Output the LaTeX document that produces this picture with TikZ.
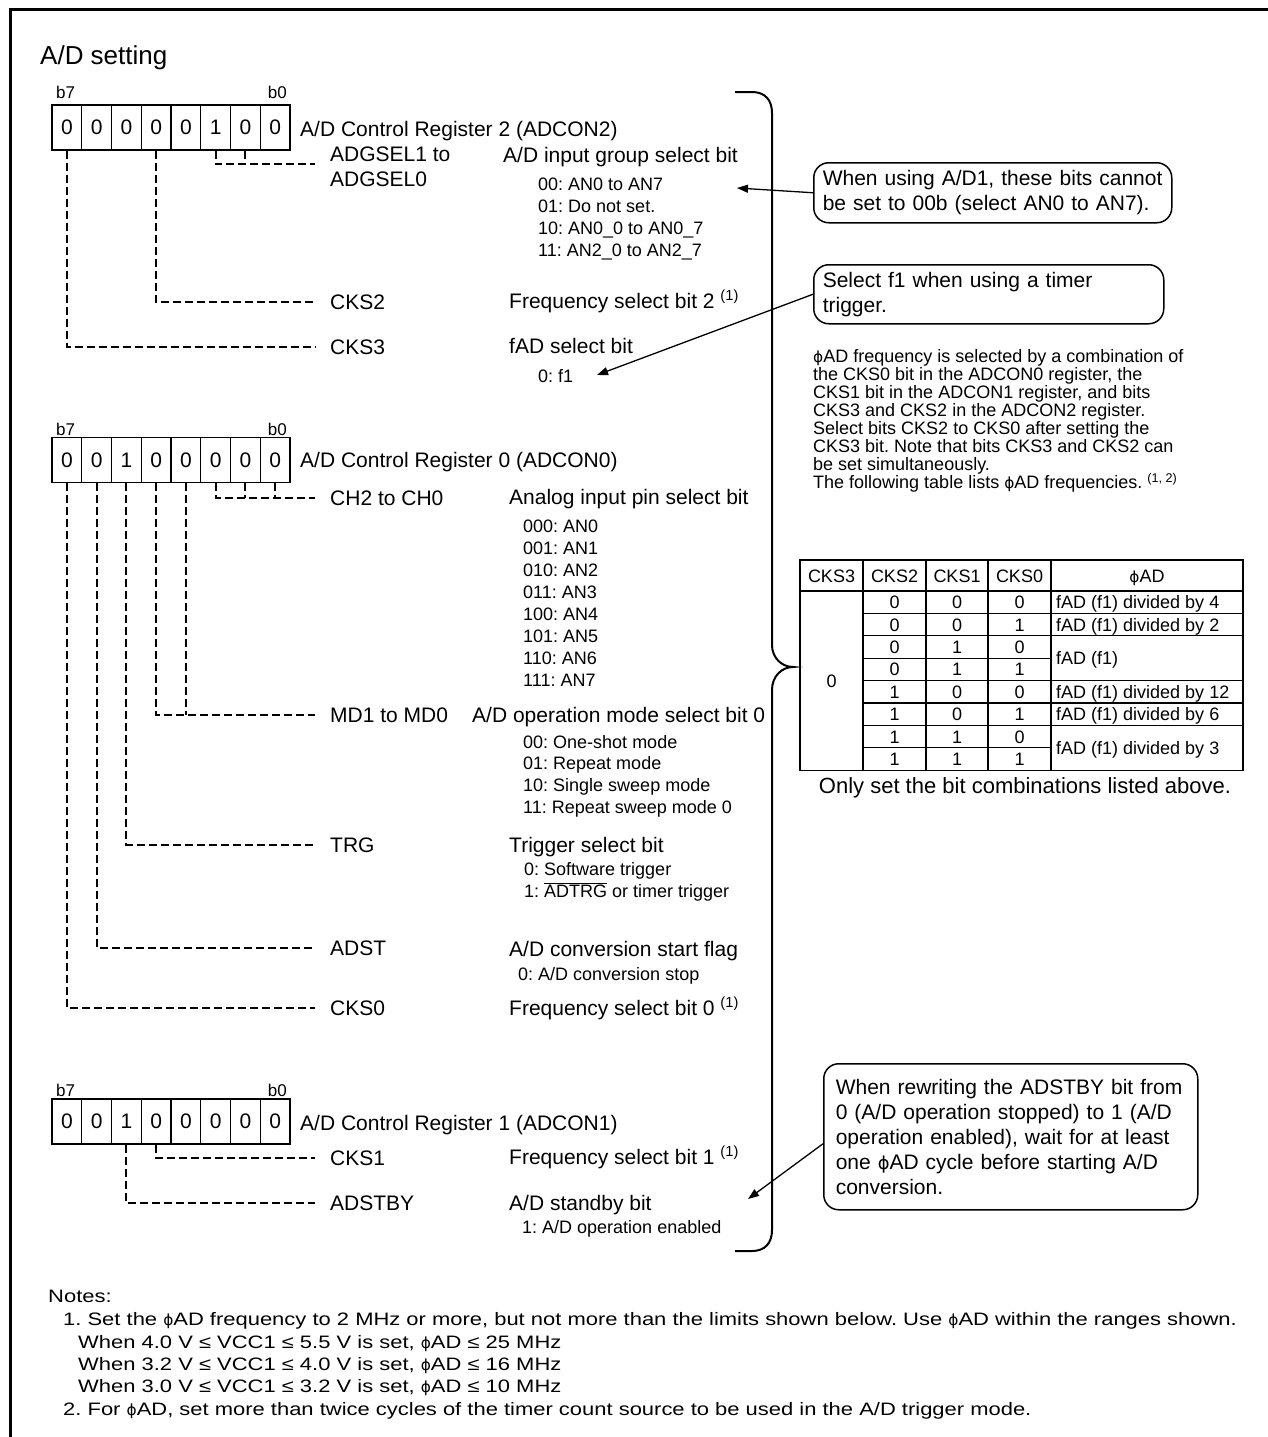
\documentclass[tikz,border=0pt]{standalone}
\usepackage{fontspec}
\setmainfont{Liberation Sans}
\newfontfamily\phifont{DejaVu Sans}[Scale=0.85]
\newfontfamily\notesfont{Liberation Sans}[FakeStretch=1.22]
\usetikzlibrary{arrows.meta,calc}
\frenchspacing
\newcommand\phiAD{{\phifont ϕ}AD}
\newcommand\fsT{\fontsize{26}{30}\selectfont}
\newcommand\fsA{\fontsize{21}{25}\selectfont}
\newcommand\fsO{\fontsize{22}{26}\selectfont}
\newcommand\fsB{\fontsize{18}{22}\selectfont}
\newcommand\fsC{\fontsize{17}{20}\selectfont}
\newcommand\fsN{\notesfont\fontsize{18}{22}\selectfont}
\newcommand\sups[1]{\textsuperscript{(#1)}}
\newcommand\ovl[1]{$\overline{\hbox{#1}}$}
\begin{document}
\begin{tikzpicture}[x=1pt,y=-1pt,
  cell/.style={draw, line width=1.3pt, minimum width=29.75pt, minimum height=45pt, inner sep=0pt, font=\fsA},
  txt/.style={inner sep=0pt, anchor=base west},
  blbl/.style={inner sep=0pt, font=\fsC},
  lbl/.style={font=\fsA, inner xsep=15pt, inner ysep=0pt, text height=15pt, text depth=0pt, anchor=west},
  lbl2/.style={font=\fsA, align=left, inner xsep=15pt, inner ysep=0pt, anchor=west},
  dl/.style={line width=2pt, dash pattern=on 8pt off 4pt},
  callout/.style={draw, rounded corners=15pt, line width=1.5pt, font=\fsA, align=left, inner ysep=0pt, anchor=north west},
  arr/.style={line width=1.3pt, -{Triangle[length=11pt,width=8pt]}},
  tbl/.style={line width=1.3pt},
  tc/.style={font=\fsB, inner sep=0pt, text height=13pt, text depth=0pt, anchor=center},
  brace/.style={line width=2pt}
]
\useasboundingbox (0,0) rectangle (1267,1437);
\draw[line width=3pt] (1300,10) -- (10,10) -- (10,1500);

\node[txt, font=\fsT] (title) at (40,65) {A/D setting};

% ---------------- ADCON2 ----------------
\foreach \i/\v in {7/0,6/0,5/0,4/0,3/0,2/1,1/0,0/0}
  \node[cell] (ra\i) at ({66.875+29.75*(7-\i)},127.5) {\v};
\node[blbl, anchor=base west] (ra-b7) at (56,98) {b7};
\node[blbl, anchor=base east] (ra-b0) at (287,98) {b0};
\node[txt, font=\fsA] (ra-name) at (300,136) {A/D Control Register 2 (ADCON2)};

\node[lbl2] (adgsel) at (315,167) {ADGSEL1 to\\ADGSEL0};
\coordinate (adgselL) at ($(adgsel.west)+(0,-3)$);
\draw[dl] (ra2.south) |- (adgselL);
\draw[dl] (ra1.south) -- (ra1.south |- adgselL);
\node[txt, font=\fsA] (adgsel-d) at (503,162) {A/D input group select bit};
\foreach \t [count=\k from 0] in {{00: AN0 to AN7},{01: Do not set.},{10: AN0\_0 to AN0\_7},{11: AN2\_0 to AN2\_7}}
  \node[txt, font=\fsB] (adgsel-s\k) at (538,{190+22.3*\k}) {\t};

\node[lbl] (cks2) at (315,302) {CKS2};
\draw[dl] (ra4.south) |- (cks2.west);
\node[txt, font=\fsA] (cks2-d) at (509,308) {Frequency select bit 2 \sups{1}};

\node[lbl] (cks3) at (315,347) {CKS3};
\draw[dl] (ra7.south) |- (cks3.west);
\node[txt, font=\fsA] (cks3-d) at (509,353) {fAD select bit};
\node[txt, font=\fsB] (cks3-s) at (538,382) {0: f1};
\coordinate (f1tip) at (597,375);

% ---------------- callouts top ----------------
\node[callout, text width=340pt, inner xsep=9pt, minimum height=60pt] (c1) at (813,162)
  {When using A/D1, these bits cannot\\be set to 00b (select AN0 to AN7).};
\coordinate (t1) at (737,188);
\draw[arr] (c1.west) -- (t1);

\node[callout, text width=332pt, inner xsep=9pt, minimum height=59pt] (c2) at (813,264)
  {Select f1 when using a timer\\trigger.};
\draw[arr] (c2.west) -- (f1tip);

% ---------------- paragraph ----------------
\foreach \t [count=\k from 0] in {
  {\phiAD\ frequency is selected by a combination of},
  {the CKS0 bit in the ADCON0 register, the},
  {CKS1 bit in the ADCON1 register, and bits},
  {CKS3 and CKS2 in the ADCON2 register.},
  {Select bits CKS2 to CKS0 after setting the},
  {CKS3 bit. Note that bits CKS3 and CKS2 can},
  {be set simultaneously.},
  {The following table lists \phiAD\ frequencies. \sups{1, 2}}}
  \node[txt, font=\fsB] (p\k) at (813,{362+18.1*\k}) {\t};

% ---------------- table ----------------
\draw[tbl] (800,560) rectangle (1243,770.2);
\draw[tbl] (800,591) -- (1243,591);
\foreach \x in {863,926,988,1051} \draw[tbl] (\x,560) -- (\x,770.2);
\foreach \k in {1,...,7} \draw[tbl] (863,{591+22.4*\k}) -- (1051,{591+22.4*\k});
\foreach \k in {1,2,4,5,6} \draw[tbl] (1051,{591+22.4*\k}) -- (1243,{591+22.4*\k});
\node[tc] (h1) at (831.5,575.5) {CKS3};
\node[tc] (h2) at (894.5,575.5) {CKS2};
\node[tc] (h3) at (957,575.5) {CKS1};
\node[tc] (h4) at (1019.5,575.5) {CKS0};
\node[tc] (h5) at (1147,575.5) {\phiAD};
\node[tc] (v1) at (831.5,680.6) {0};
\foreach \a/\b/\c [count=\k from 0] in {0/0/0,0/0/1,0/1/0,0/1/1,1/0/0,1/0/1,1/1/0,1/1/1} {
  \node[tc] (v2-\k) at (894.5,{602.2+22.4*\k}) {\a};
  \node[tc] (v3-\k) at (957,{602.2+22.4*\k}) {\b};
  \node[tc] (v4-\k) at (1019.5,{602.2+22.4*\k}) {\c};
}
\node[tc, anchor=west] (f0) at (1056,602.2) {fAD (f1) divided by 4};
\node[tc, anchor=west] (f1) at (1056,624.6) {fAD (f1) divided by 2};
\node[tc, anchor=west] (f2) at (1056,658.2) {fAD (f1)};
\node[tc, anchor=west] (f4) at (1056,691.8) {fAD (f1) divided by 12};
\node[tc, anchor=west] (f5) at (1056,714.2) {fAD (f1) divided by 6};
\node[tc, anchor=west] (f6) at (1056,747.8) {fAD (f1) divided by 3};
\node[inner sep=0pt, anchor=base, font=\fsO] (only) at (1025,793) {Only set the bit combinations listed above.};

% ---------------- ADCON0 ----------------
\foreach \i/\v in {7/0,6/0,5/1,4/0,3/0,2/0,1/0,0/0}
  \node[cell] (rb\i) at ({66.875+29.75*(7-\i)},460) {\v};
\node[blbl, anchor=base west] (rb-b7) at (56,435) {b7};
\node[blbl, anchor=base east] (rb-b0) at (287,435) {b0};
\node[txt, font=\fsA] (rb-name) at (300,467) {A/D Control Register 0 (ADCON0)};

\node[lbl] (ch) at (315,498) {CH2 to CH0};
\draw[dl] (rb2.south) |- (ch.west);
\draw[dl] (rb1.south) -- (rb1.south |- ch.west);
\draw[dl] (rb0.south) -- (rb0.south |- ch.west);
\node[txt, font=\fsA] (ch-d) at (509,504) {Analog input pin select bit};
\foreach \t [count=\k from 0] in {{000: AN0},{001: AN1},{010: AN2},{011: AN3},{100: AN4},{101: AN5},{110: AN6},{111: AN7}}
  \node[txt, font=\fsB] (ch-s\k) at (523,{532+22.1*\k}) {\t};

\node[lbl] (md) at (315,715) {MD1 to MD0};
\draw[dl] (rb4.south) |- (md.west);
\draw[dl] (rb3.south) -- (rb3.south |- md.west);
\node[txt, font=\fsA] (md-d) at (472,722) {A/D operation mode select bit 0};
\foreach \t [count=\k from 0] in {{00: One-shot mode},{01: Repeat mode},{10: Single sweep mode},{11: Repeat sweep mode 0}}
  \node[txt, font=\fsB] (md-s\k) at (523,{748+21.8*\k}) {\t};

\node[lbl] (trg) at (315,845) {TRG};
\draw[dl] (rb5.south) |- (trg.west);
\node[txt, font=\fsA] (trg-d) at (509,852) {Trigger select bit};
\node[txt, font=\fsB] (trg-s0) at (524,875) {0: Software trigger};
\node[txt, font=\fsB] (trg-s1) at (524,897) {1: \ovl{ADTRG} or timer trigger};

\node[lbl] (adst) at (315,948) {ADST};
\draw[dl] (rb6.south) |- (adst.west);
\node[txt, font=\fsA] (adst-d) at (509,956) {A/D conversion start flag};
\node[txt, font=\fsB] (adst-s) at (518,980) {0: A/D conversion stop};

\node[lbl] (cks0) at (315,1008) {CKS0};
\draw[dl] (rb7.south) |- (cks0.west);
\node[txt, font=\fsA] (cks0-d) at (509,1015) {Frequency select bit 0 \sups{1}};

% ---------------- ADCON1 ----------------
\foreach \i/\v in {7/0,6/0,5/1,4/0,3/0,2/0,1/0,0/0}
  \node[cell] (rc\i) at ({66.875+29.75*(7-\i)},1121.5) {\v};
\node[blbl, anchor=base west] (rc-b7) at (56,1096) {b7};
\node[blbl, anchor=base east] (rc-b0) at (287,1096) {b0};
\node[txt, font=\fsA] (rc-name) at (300,1130) {A/D Control Register 1 (ADCON1)};

\node[lbl] (cks1) at (315,1158) {CKS1};
\draw[dl] (rc4.south) |- (cks1.west);
\node[txt, font=\fsA] (cks1-d) at (509,1164) {Frequency select bit 1 \sups{1}};

\node[lbl] (adstby) at (315,1203) {ADSTBY};
\draw[dl] (rc5.south) |- (adstby.west);
\node[txt, font=\fsA] (adstby-d) at (509,1210) {A/D standby bit};
\node[txt, font=\fsB] (adstby-s) at (522,1233) {1: A/D operation enabled};

\node[callout, text width=350pt, inner xsep=12pt, minimum height=146pt] (c3) at (823,1063)
  {When rewriting the ADSTBY bit from\\0 (A/D operation stopped) to 1 (A/D\\operation enabled), wait for at least\\one \phiAD\ cycle before starting A/D\\conversion.};
\coordinate (t3) at (748,1199);
\draw[arr] ($(c3.west)+(0,7)$) -- (t3);

% ---------------- brace ----------------
\draw[brace] (735,92) -- (752,92) .. controls (765,92) and (772,100) .. (772,113)
  -- (772,645) .. controls (772,658) and (782,667) .. (793,667)
  .. controls (782,667) and (772,676) .. (772,690)
  -- (772,1230) .. controls (772,1243) and (765,1251) .. (752,1251) -- (735,1251);

% ---------------- notes ----------------
\node[txt, font=\fsN] (n0) at (48,1302) {Notes:};
\node[txt, font=\fsN] (n1) at (63,1325) {1. Set the \phiAD\ frequency to 2 MHz or more, but not more than the limits shown below. Use \phiAD\ within the ranges shown.};
\node[txt, font=\fsN] (n2) at (78,1348) {When 4.0 V ≤ VCC1 ≤ 5.5 V is set, \phiAD\ ≤ 25 MHz};
\node[txt, font=\fsN] (n3) at (78,1370) {When 3.2 V ≤ VCC1 ≤ 4.0 V is set, \phiAD\ ≤ 16 MHz};
\node[txt, font=\fsN] (n4) at (78,1392) {When 3.0 V ≤ VCC1 ≤ 3.2 V is set, \phiAD\ ≤ 10 MHz};
\node[txt, font=\fsN] (n5) at (63,1415) {2. For \phiAD, set more than twice cycles of the timer count source to be used in the A/D trigger mode.};
\end{tikzpicture}
\end{document}
